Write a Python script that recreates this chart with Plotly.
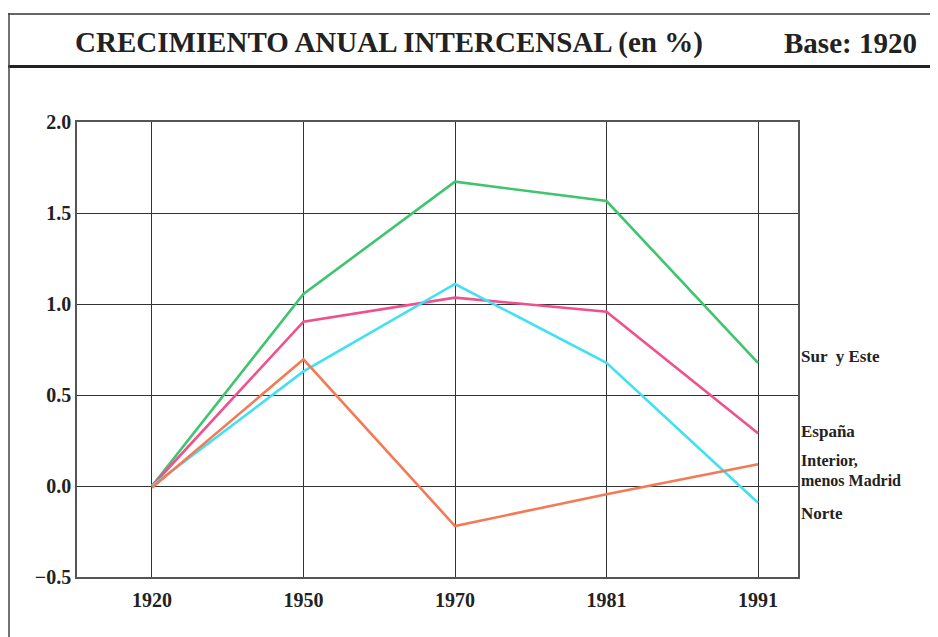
import plotly.graph_objects as go

years = ["1920", "1950", "1970", "1981", "1991"]
sur_este = [0.0, 1.055, 1.672, 1.566, 0.677]
espana = [0.0, 0.903, 1.035, 0.958, 0.29]
norte = [0.0, 0.63, 1.11, 0.677, -0.092]
interior = [-0.01, 0.696, -0.22, -0.045, 0.12]
y_ticks = [-0.5, 0.0, 0.5, 1.0, 1.5, 2.0]

OFF = 8  # page body margin
W, H = 938 - OFF, 637 - OFF
L, R, T, B = 77 - OFF, 798 - OFF, 122 - OFF, 577 - OFF

def px(x):
    return (x - OFF - L) / (R - L)

def py(y):
    return (B - (y - OFF)) / (B - T)

x = list(range(len(years)))
series = [
    ("Sur y Este", sur_este, "#3ec56e"),
    ("España", espana, "#f0508c"),
    ("Norte", norte, "#42e0f2"),
    ("Interior, menos Madrid", interior, "#f47a55"),
]

fig = go.Figure()
for name, vals, col in series:
    fig.add_trace(go.Scatter(x=x, y=vals, mode="lines", name=name,
                             line=dict(color=col, width=2.6)))

font = "Liberation Serif"
labels = [
    ("<b>Sur  y Este</b>", 356, 17),
    ("<b>España</b>", 431, 17),
    ("<b>Interior,</b>", 460, 16),
    ("<b>menos Madrid</b>", 480, 16),
    ("<b>Norte</b>", 513, 17),
]
for txt, yv, fs in labels:
    fig.add_annotation(x=px(799), y=py(yv), xref="paper", yref="paper", text=txt, showarrow=False,
                       xanchor="left", yanchor="middle", align="left",
                       font=dict(family=font, size=fs, color="#222"))

# title box
fig.add_annotation(x=px(73), y=py(43), xref="paper", yref="paper",
                   text="<b>CRECIMIENTO ANUAL INTERCENSAL (en %)</b>", showarrow=False,
                   xanchor="left", yanchor="middle",
                   font=dict(family=font, size=29, color="#222"))
fig.add_annotation(x=px(919), y=py(43), xref="paper", yref="paper",
                   text="<b>Base: 1920</b>", showarrow=False,
                   xanchor="right", yanchor="middle",
                   font=dict(family=font, size=29, color="#222"))

shapes = [
    dict(type="line", xref="paper", yref="paper", x0=px(8), x1=px(945), y0=py(14), y1=py(14),
         line=dict(color="#333", width=1.5)),
    dict(type="line", xref="paper", yref="paper", x0=px(8), x1=px(945), y0=py(66.5), y1=py(66.5),
         line=dict(color="#222", width=3)),
    dict(type="line", xref="paper", yref="paper", x0=px(9), x1=px(9), y0=py(13), y1=py(645),
         line=dict(color="#444", width=1.5)),
]
fig.update_layout(shapes=shapes)

fig.update_xaxes(range=[-0.495, 4.264], tickvals=x, ticktext=["<b>%s</b>" % y for y in years],
                 showgrid=True, gridcolor="#333", gridwidth=1, zeroline=False,
                 showline=True, linecolor="#555", linewidth=1.5, mirror=True,
                 ticks="", ticklabelstandoff=4, tickfont=dict(family=font, size=20, color="#222"))
fig.update_yaxes(range=[-0.5, 2.0], tickvals=y_ticks,
                 ticktext=["<b>%s</b>" % ("%.1f" % v).replace("-", "−") for v in y_ticks],
                 showgrid=True, gridcolor="#333", gridwidth=1, zeroline=False,
                 showline=True, linecolor="#555", linewidth=1.5, mirror=True,
                 ticks="", tickfont=dict(family=font, size=20, color="#222"))

fig.update_layout(width=W, height=H, showlegend=False,
                  margin=dict(l=L, r=W - R, t=T, b=H - B),
                  paper_bgcolor="white", plot_bgcolor="white")

fig.write_html("out.html")
